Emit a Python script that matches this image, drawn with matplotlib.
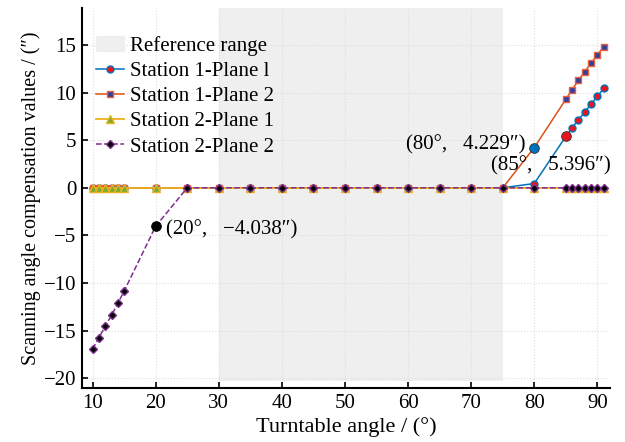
import matplotlib.pyplot as plt
import matplotlib.patches as mpatches

plt.rcParams['font.family'] = ['Liberation Serif', 'DejaVu Serif']

# turntable angles (deg)
angles = [10, 11, 12, 13, 14, 15, 20, 25, 30, 35, 40, 45, 50, 55, 60, 65, 70, 75,
          80, 85, 86, 87, 88, 89, 90, 91]

# compensation values (arcsec)
s1p1 = [0] * 18 + [0.45, 5.396, 6.3, 7.15, 7.95, 8.8, 9.6, 10.45]
s1p2 = [0] * 18 + [4.229, 9.3, 10.3, 11.3, 12.2, 13.1, 14.0, 14.8]
s2p1 = [0] * 26
s2p2 = [-16.95, -15.75, -14.55, -13.4, -12.15, -10.85, -4.038] + [0] * 19

ref_range = (30, 75)

highlights = [(80, 4.229, '#0072BD'), (85, 5.396, '#E8161B'), (20, -4.038, 'black')]

fig = plt.figure(figsize=(6.25, 4.42), dpi=100)
ax = fig.add_axes([0.131, 0.122, 0.845, 0.86])

ax.fill_between(ref_range, -20.3, 20, color='#efefef', lw=0, zorder=0)

ax.plot(angles, s1p1, '-o', color='#0072BD', mfc='#E8161B', mec='#0072BD', ms=5, lw=1.1,
        label='Station 1-Plane l', zorder=2)
ax.plot(angles, s1p2, '-s', color='#D95319', mfc='#3040A0', mec='#E8603A', ms=3.8, lw=1.1,
        label='Station 1-Plane 2', zorder=2)
ax.plot(angles, s2p1, '-^', color='#EDB120', mfc='#77AC30', mec='#EDB120', ms=6, lw=1.3,
        label='Station 2-Plane 1', zorder=3)
ax.plot(angles, s2p2, '--D', color='#7E2F8E', mfc='black', mec='#7E2F8E', ms=4, lw=1.1,
        label='Station 2-Plane 2', zorder=4)

for x, y, c in highlights:
    ax.plot(x, y, 'o', color=c, mec='#333333' if c != 'black' else 'black', mew=0.6, ms=7, zorder=5)

ax.text(78.6, 4.5, '(80°,   4.229″)', ha='right', va='center', fontsize=15)
ax.text(73.2, 2.3, '(85°,   5.396″)', ha='left', va='center', fontsize=15)
ax.text(21.6, -4.4, '(20°,   −4.038″)', ha='left', va='center', fontsize=15)

ax.set_xlim(8.3, 92)
ax.set_ylim(-21.05, 18.9)
ax.set_xticks(range(10, 91, 10))
ax.set_yticks(range(-20, 16, 5))
ax.set_yticklabels(['−20', '−15', '−10', '−5', '0', '5', '10', '15'])
ax.tick_params(direction='in', labelsize=15, width=1.2, length=4, pad=4)
ax.grid(True, linestyle=':', color='#dddddd', lw=0.8)
ax.set_axisbelow(True)
for s in ['top', 'right']:
    ax.spines[s].set_visible(False)
for s in ['left', 'bottom']:
    ax.spines[s].set_linewidth(1.5)

ax.set_xlabel('Turntable angle / (°)', fontsize=16, labelpad=3)
ax.set_ylabel('Scanning angle compensation values / (″)', fontsize=14.5, labelpad=2)

handles, labels = ax.get_legend_handles_labels()
ref_patch = mpatches.Patch(color='#efefef', label='Reference range')
ax.legend([ref_patch] + handles, ['Reference range'] + labels, loc='upper left',
          bbox_to_anchor=(0.0, 0.965), frameon=False, fontsize=15, handlelength=1.3,
          handletextpad=0.3, labelspacing=0.27, borderaxespad=0.3)

fig.savefig('out.png', dpi=100)
